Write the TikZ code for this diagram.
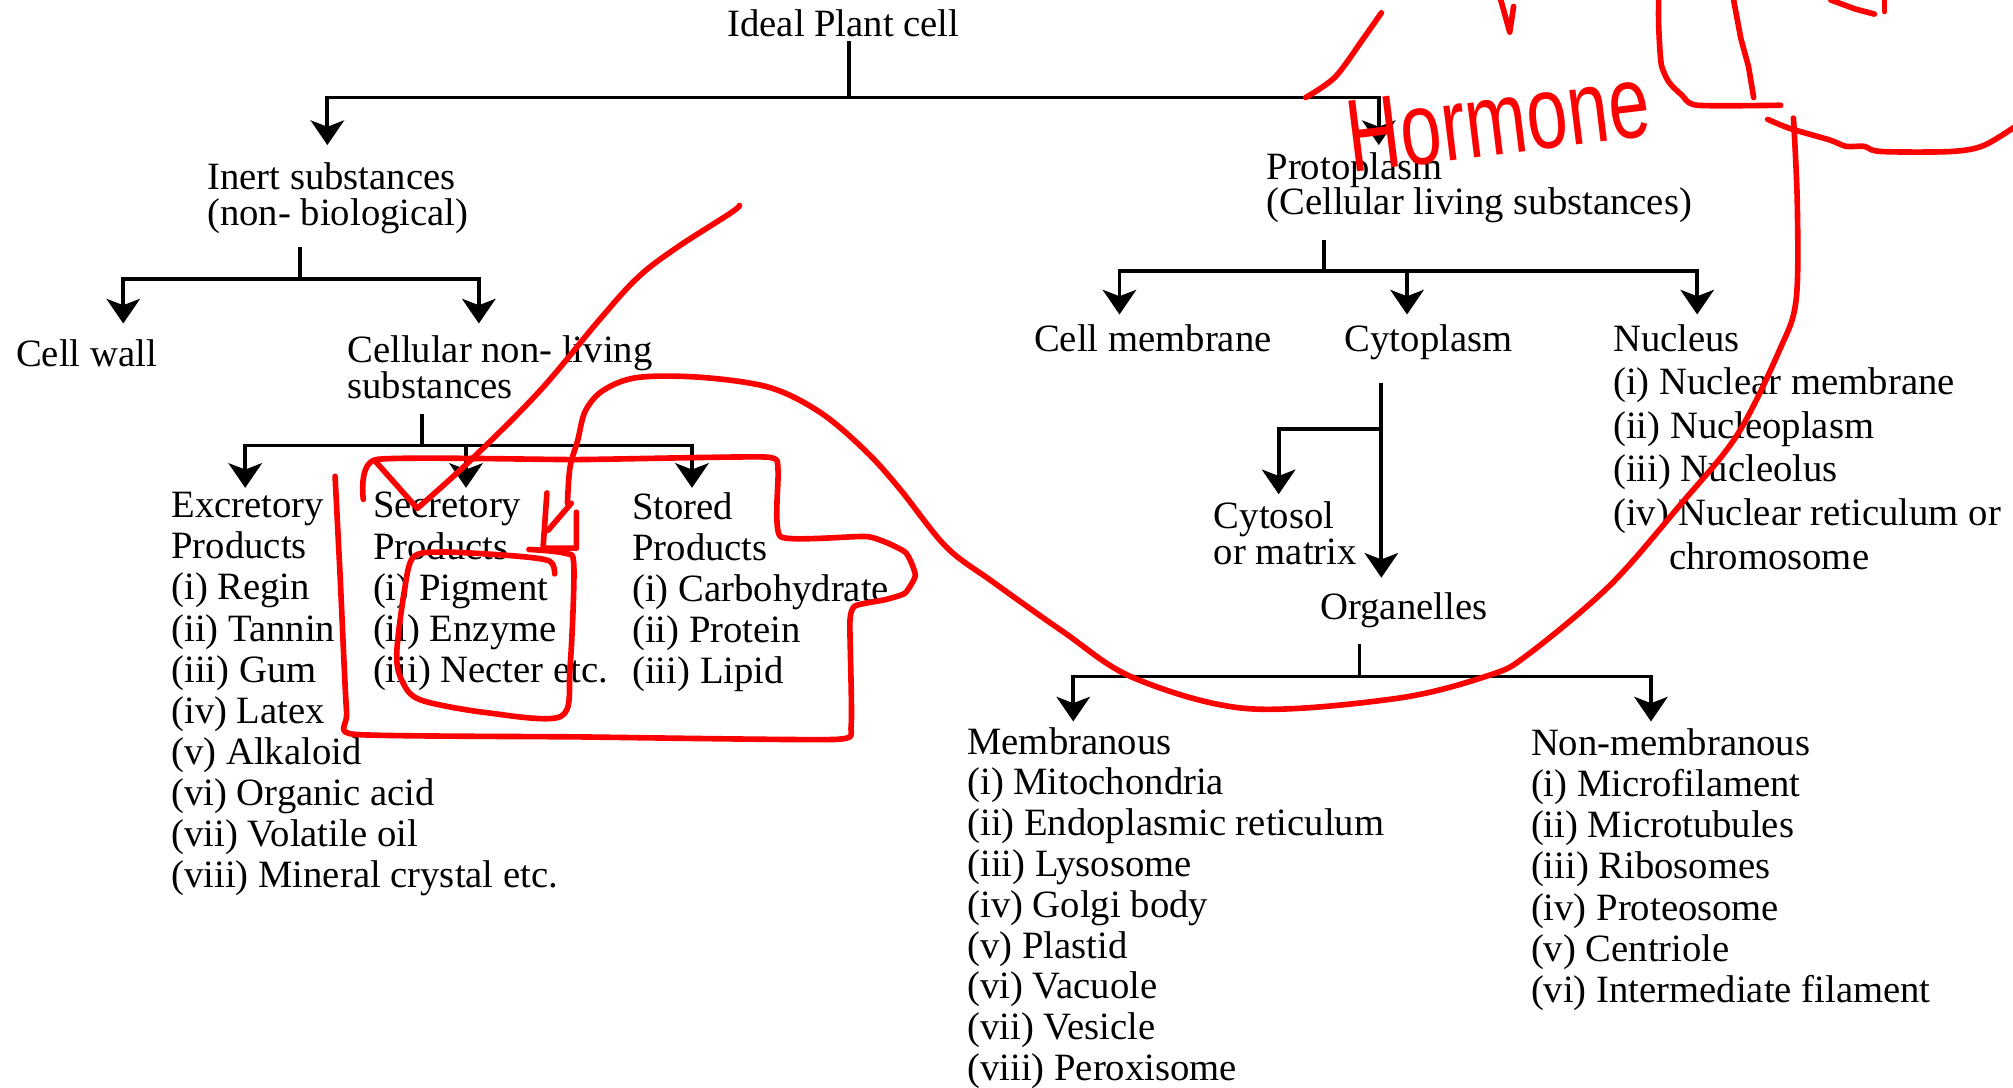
\documentclass[tikz,border=0pt]{standalone}
\usepackage{fontspec}
\setmainfont{Liberation Serif}
\newfontfamily\handfont{Liberation Sans}
\usetikzlibrary{arrows.meta}

\begin{document}
\begin{tikzpicture}[x=0.012838cm, y=-0.012838cm,
    txt/.style={anchor=north west, inner sep=0pt, align=left, font=\fontsize{11}{11.7}\selectfont},
    head/.style={txt, font=\fontsize{11}{10.2}\selectfont},
    link/.style={line width=1.1pt},
    arr/.style={link, -{Stealth[length=7pt, width=9.5pt, inset=1.8pt]}},
    ink/.style={red, line width=1.6pt, line cap=round, line join=round}]

  \useasboundingbox (0,0) rectangle (1568,847);

  % Nodes
  \node[txt, anchor=north] (ideal) at (657,7) {Ideal Plant cell};
  \node[head] (inert) at (161,126) {Inert substances\\(non- biological)};
  \node[head] (proto) at (986,118) {Protoplasm\\(Cellular living substances)};
  \node[txt] (wall) at (12,264) {Cell wall};
  \node[head] (nonliving) at (270,261) {Cellular non- living\\substances};
  \node[txt] (excr) at (133,383) {Excretory\\Products\\(i) Regin\\(ii) Tannin\\(iii) Gum\\(iv) Latex\\(v) Alkaloid\\(vi) Organic acid\\(vii) Volatile oil\\(viii) Mineral crystal etc.};
  \node[txt] (secr) at (290,383) {Secretory\\Products\\(i) Pigment\\(ii) Enzyme\\(iii) Necter etc.};
  \node[txt] (stored) at (492,383) {Stored\\Products\\(i) Carbohydrate\\(ii) Protein\\(iii) Lipid};
  \node[txt] (membrane) at (805,252) {Cell membrane};
  \node[txt] (cyto) at (1047,252) {Cytoplasm};
  \node[txt, font=\fontsize{11}{12.4}\selectfont] (nucleus) at (1256,252) {Nucleus\\(i) Nuclear membrane\\(ii) Nucleoplasm\\(iii) Nucleolus\\(iv) Nuclear reticulum or\\\hspace*{16pt}chromosome};
  \node[head] (cytosol) at (945,390) {Cytosol\\or matrix};
  \node[txt] (organelles) at (1028,461) {Organelles};
  \node[txt, font=\fontsize{11}{11.6}\selectfont] (membranous) at (753,566) {Membranous\\(i) Mitochondria\\(ii) Endoplasmic reticulum\\(iii) Lysosome\\(iv) Golgi body\\(v) Plastid\\(vi) Vacuole\\(vii) Vesicle\\(viii) Peroxisome};
  \node[txt] (nonmem) at (1192,567) {Non-membranous\\(i) Microfilament\\(ii) Microtubules\\(iii) Ribosomes\\(iv) Proteosome\\(v) Centriole\\(vi) Intermediate filament};

  % Junctions and arrow ends
  \coordinate (j1) at (661,76);
  \coordinate (t-inert) at (255,113);
  \coordinate (t-proto) at (1074,113);
  \coordinate (j2) at (234,217);
  \coordinate (t-wall) at (96,252);
  \coordinate (t-nonliving) at (373,252);
  \coordinate (j3) at (329,347);
  \coordinate (t-excr) at (191,380);
  \coordinate (t-secr) at (363,380);
  \coordinate (t-stored) at (539,380);
  \coordinate (j4) at (1031,211);
  \coordinate (t-membrane) at (872,245);
  \coordinate (t-cyto) at (1096,245);
  \coordinate (t-nucleus) at (1322,245);
  \coordinate (j5) at (1076,334);
  \coordinate (t-cytosol) at (996,385);
  \coordinate (t-organelles) at (1076,450);
  \coordinate (j6) at (1059,527);
  \coordinate (t-membranous) at (836,562);
  \coordinate (t-nonmem) at (1286,562);

  % Tree
  \draw[link, shorten <=1pt] (ideal.south -| j1) -- (j1);
  \draw[arr] (j1) -| (t-inert);
  \draw[arr] (j1) -| (t-proto);

  \draw[link, shorten <=3.5pt] (inert.south -| j2) -- (j2);
  \draw[arr] (j2) -| (t-wall);
  \draw[arr] (j2) -| (t-nonliving);

  \draw[link, shorten <=4pt] (nonliving.south -| j3) -- (j3);
  \draw[arr] (j3) -| (t-excr);
  \draw[arr] (j3) -| (t-secr);
  \draw[arr] (j3) -| (t-stored);

  \draw[link, shorten <=4.5pt] (proto.south -| j4) -- (j4);
  \draw[arr] (j4) -| (t-membrane);
  \draw[arr] (j4) -| (t-cyto);
  \draw[arr] (j4) -| (t-nucleus);

  \draw[arr, shorten <=6.5pt] (cyto.south -| j5) -- (t-organelles);
  \draw[arr] (j5) -| (t-cytosol);

  \draw[link, shorten <=4.5pt] (organelles.south -| j6) -- (j6);
  \draw[arr] (j6) -| (t-membranous);
  \draw[arr] (j6) -| (t-nonmem);

  % Red marks
  \draw[ink] plot[smooth, tension=0.6] coordinates {(576,160) (569,166) (527,193) (497,216) (467,249) (420,305) (365,360) (325,396)} -- (293,360);
  \draw[ink] plot[smooth, tension=0.3] coordinates {(283,389) (293,358) (450,358) (596,356) (606,366) (608,418) (676,418) (705,430) (713,448) (705,462) (690,467) (666,472) (662,485) (663,565) (650,576) (450,574) (276,572) (270,555) (265,450) (261,371)};
  \draw[ink] plot[smooth, tension=0.5] coordinates {(432,447) (428,437) (400,433) (345,430) (322,434) (315,460) (309,509) (313,530) (327,545) (378,555) (437,558) (444,520) (447,441) (440,431) (412,428)};
  \draw[ink] plot[smooth, tension=0.55] coordinates {(442,392) (444,364) (450,343) (456,320) (470,304) (497,294) (547,294) (600,302) (640,322) (675,352) (701,381) (737,426) (773,453) (828,492) (883,528) (972,552) (1088,544) (1160,526) (1190,510) (1254,456) (1309,393) (1353,339) (1386,273) (1399,234) (1400,160) (1397,92)};
  \draw[ink] (445,392) -- (427,413);
  \draw[ink] (426,384) -- (423,427) -- (449,427) -- (449,399);
  \draw[ink] plot[smooth] coordinates {(1377,93) (1394,100) (1425,109) (1438,114) (1452,114) (1465,118) (1520,118) (1546,113) (1575,95)};
  \draw[ink] plot[smooth] coordinates {(1076,10) (1062,30) (1040,60) (1017,76)};
  \draw[ink] (1169,0) -- (1176,25) -- (1179,5);
  \draw[ink] plot[smooth, tension=0.4] coordinates {(1292,-5) (1292,20) (1294,50) (1300,64) (1310,74) (1322,82) (1387,82)};
  \draw[ink] (1350,-2) -- (1356,30) -- (1362,52) -- (1366,76);
  \draw[ink] (1426,0) -- (1445,7) -- (1460,11);
  \draw[ink] (1468,0) -- (1468,9);
  \node[red, inner sep=0pt, rotate=7, font=\handfont\fontsize{21}{21}\selectfont] (hormone) at (1167,93) {\scalebox{1}[1.4]{Hormone}};

\end{tikzpicture}
\end{document}
